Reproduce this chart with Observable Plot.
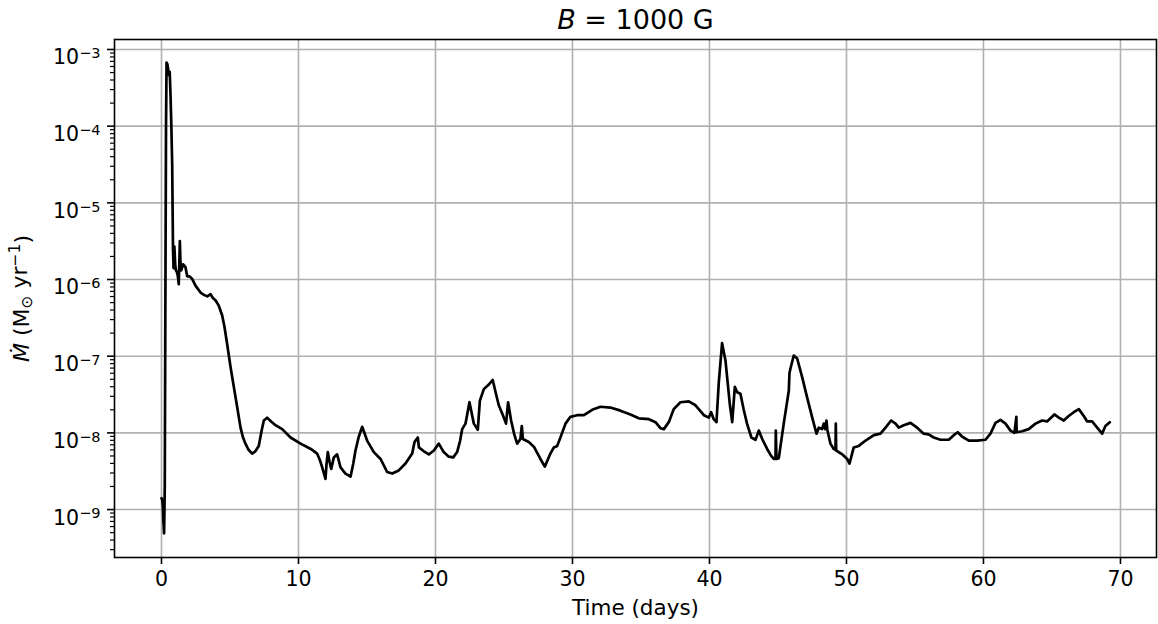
<!DOCTYPE html>
<html>
<head>
<meta charset="utf-8">
<script src="https://cdn.jsdelivr.net/npm/d3@7"></script>
<script src="https://cdn.jsdelivr.net/npm/@observablehq/plot@0.6"></script>
<style>
html, body { margin: 0; padding: 0; background: #fff; }
svg { display: block; }
</style>
</head>
<body>
<div id="chart"></div>
<script>
const titleText = "B = 1000 G";
const xLabel = "Time (days)";
const yLabel = "Ṁ (M⊙ yr⁻¹)";
const xTicks = [0, 10, 20, 30, 40, 50, 60, 70];
const yTicks = [1e-9, 1e-8, 1e-7, 1e-6, 1e-5, 1e-4, 1e-3];
const xDomain = [-3.43, 72.63];
const yDomain = [2.37e-10, 1.35e-3];

// time (days)
const timeDays = [
  0.00,0.05,0.10,0.14,0.19,0.24,0.28,0.33,0.37,0.43,0.48,0.53,0.60,0.66,0.72,0.78,0.84,0.88,0.94,1.00,
  1.05,1.12,1.19,1.26,1.30,1.34,1.38,1.44,1.58,1.75,1.88,2.05,2.24,2.48,2.85,3.10,3.34,3.58,3.75,3.94,
  4.18,4.43,4.60,4.79,5.04,5.28,5.53,5.77,5.95,6.13,6.35,6.62,6.85,7.10,7.30,7.47,7.71,8.00,8.32,8.81,
  9.42,10.15,10.90,11.36,11.55,11.73,11.97,12.05,12.14,12.27,12.39,12.58,12.82,13.07,13.43,13.80,14.00,14.16,14.40,14.65,
  15.01,15.50,15.99,16.47,16.84,17.32,17.81,18.30,18.47,18.71,18.79,19.15,19.52,19.88,20.24,20.60,20.97,21.30,21.58,21.80,
  21.95,22.19,22.48,22.80,23.09,23.24,23.53,23.89,24.18,24.40,24.62,24.90,25.15,25.30,25.52,25.75,25.96,26.20,26.30,26.38,
  26.81,27.18,27.66,27.98,28.39,28.64,28.88,29.12,29.49,29.85,30.34,30.83,31.44,32.04,32.77,33.50,34.23,34.84,35.58,36.06,
  36.42,36.67,37.03,37.39,37.88,38.49,38.98,39.59,39.95,40.12,40.31,40.51,40.68,40.92,41.17,41.48,41.66,41.85,42.02,42.26,
  42.50,42.74,43.06,43.36,43.60,43.85,44.21,44.50,44.70,44.82,44.84,44.89,45.06,45.42,45.79,45.84,45.90,46.15,46.40,46.76,
  47.13,47.50,47.81,47.98,48.22,48.34,48.45,48.54,48.60,48.83,49.07,49.20,49.22,49.25,49.69,50.05,50.22,50.53,50.90,51.39,
  52.00,52.48,52.85,53.26,53.58,53.82,54.18,54.67,55.16,55.64,56.00,56.37,56.86,57.47,57.83,58.12,58.45,58.93,59.54,60.15,
  60.51,60.88,61.24,61.61,61.97,62.26,62.40,62.42,62.82,63.30,63.80,64.28,64.64,65.18,65.50,65.86,66.22,66.59,66.96,67.32,
  67.57,67.93,68.30,68.66,68.90,69.22
];

// mass-loss rate (Msun / yr)
const mdot = [
  1.41e-9,1.35e-9,1.12e-9,7.08e-10,4.9e-10,2.0e-9,3.16e-7,1e-4,6.76e-4,6.46e-4,5.62e-4,4.68e-4,5.13e-4,2.51e-4,1e-4,3.24e-5,2.51e-6,1.41e-6,2.69e-6,1.58e-6,
  1.32e-6,1.26e-6,1.12e-6,8.71e-7,1.58e-6,3.16e-6,1.78e-6,1.32e-6,1.58e-6,1.45e-6,1.10e-6,1.10e-6,1.02e-6,8.32e-7,6.76e-7,6.31e-7,6.03e-7,6.46e-7,5.75e-7,5.37e-7,
  4.57e-7,3.39e-7,2.40e-7,1.45e-7,7.24e-8,3.98e-8,2.14e-8,1.17e-8,8.71e-9,7.24e-9,6.03e-9,5.37e-9,5.75e-9,6.76e-9,1.05e-8,1.45e-8,1.58e-8,1.41e-8,1.26e-8,1.12e-8,
  8.71e-9,7.24e-9,6.17e-9,5.37e-9,4.47e-9,3.55e-9,2.51e-9,3.98e-9,5.62e-9,4.17e-9,3.39e-9,4.79e-9,5.25e-9,3.55e-9,2.95e-9,2.69e-9,3.98e-9,5.89e-9,8.91e-9,1.20e-8,
  7.94e-9,5.62e-9,4.57e-9,3.09e-9,2.95e-9,3.24e-9,3.98e-9,5.37e-9,7.59e-9,8.71e-9,6.46e-9,5.75e-9,5.25e-9,5.89e-9,7.24e-9,5.62e-9,4.90e-9,4.79e-9,5.62e-9,7.94e-9,
  1.12e-8,1.32e-8,2.51e-8,1.32e-8,1.10e-8,2.63e-8,3.72e-8,4.27e-8,4.90e-8,3.31e-8,2.29e-8,1.74e-8,1.32e-8,2.51e-8,1.45e-8,9.55e-9,7.24e-9,8.32e-9,1.23e-8,8.32e-9,
  7.59e-9,6.61e-9,4.57e-9,3.63e-9,5.37e-9,6.46e-9,6.76e-9,8.71e-9,1.32e-8,1.62e-8,1.70e-8,1.70e-8,2.00e-8,2.19e-8,2.14e-8,1.95e-8,1.74e-8,1.55e-8,1.51e-8,1.38e-8,
  1.15e-8,1.12e-8,1.38e-8,2.04e-8,2.51e-8,2.57e-8,2.29e-8,1.70e-8,1.58e-8,1.86e-8,1.51e-8,1.38e-8,4.57e-8,1.48e-7,8.71e-8,2.40e-8,1.38e-8,3.98e-8,3.39e-8,3.24e-8,
  2.00e-8,1.32e-8,8.71e-9,8.13e-9,1.07e-8,8.32e-9,6.17e-9,5.01e-9,4.57e-9,4.57e-9,1.07e-8,4.57e-9,4.68e-9,1.32e-8,3.55e-8,6.03e-8,6.76e-8,1.02e-7,9.33e-8,5.37e-8,
  2.88e-8,1.58e-8,9.77e-9,1.17e-8,1.12e-8,1.32e-8,1.12e-8,1.45e-8,1.10e-8,7.24e-9,6.17e-9,6.03e-9,1.32e-8,5.89e-9,5.25e-9,4.57e-9,3.98e-9,6.46e-9,6.76e-9,7.94e-9,
  9.33e-9,9.77e-9,1.17e-8,1.45e-8,1.32e-8,1.17e-8,1.26e-8,1.35e-8,1.17e-8,9.77e-9,9.55e-9,8.71e-9,8.13e-9,8.13e-9,9.33e-9,1.02e-8,8.91e-9,7.94e-9,7.94e-9,8.13e-9,
  9.77e-9,1.35e-8,1.48e-8,1.32e-8,1.07e-8,1.00e-8,1.62e-8,1.02e-8,1.05e-8,1.12e-8,1.32e-8,1.45e-8,1.41e-8,1.74e-8,1.58e-8,1.45e-8,1.66e-8,1.86e-8,2.04e-8,1.66e-8,
  1.41e-8,1.41e-8,1.17e-8,9.77e-9,1.23e-8,1.38e-8
];

const data = timeDays.map((t, i) => ({t, m: mdot[i]}));

const minorTicks = [];
for (const d of [1e-10, ...yTicks]) {
  for (let k = 2; k <= 9; k++) {
    const v = k * d;
    if (v >= yDomain[0] && v <= yDomain[1]) minorTicks.push(v);
  }
}

const supMap = {"-": "⁻", "0": "⁰", "1": "¹", "2": "²", "3": "³", "4": "⁴", "5": "⁵", "6": "⁶", "7": "⁷", "8": "⁸", "9": "⁹"};
const unSup = {"⁻": "−", "⁰": "0", "¹": "1", "²": "2", "³": "3", "⁴": "4", "⁵": "5", "⁶": "6", "⁷": "7", "⁸": "8", "⁹": "9"};
const fmtPow = d => "10" + String(Math.round(Math.log10(d))).replace(/./g, c => supMap[c]);

const gridColor = "#b0b0b0";

const plot = Plot.plot({
  width: 1158,
  height: 624,
  marginTop: 39,
  marginBottom: 67,
  marginLeft: 114,
  marginRight: 2,
  style: {fontFamily: "'DejaVu Sans', sans-serif", fontSize: "20.5px", color: "black", background: "white"},
  x: {domain: xDomain, label: null},
  y: {type: "log", domain: yDomain, label: null},
  marks: [
    Plot.gridX(xTicks, {stroke: gridColor, strokeOpacity: 1, strokeWidth: 1.6}),
    Plot.gridY(yTicks, {stroke: gridColor, strokeOpacity: 1, strokeWidth: 1.6}),
    Plot.line(data, {x: "t", y: "m", stroke: "black", strokeWidth: 2.7, clip: true, strokeLinejoin: "round"}),
    Plot.frame({stroke: "black", strokeWidth: 1.6}),
    Plot.axisX(xTicks, {tickSize: 7, tickPadding: 7, strokeWidth: 1.6, label: null, fontSize: 20.5}),
    Plot.axisY(yTicks, {tickSize: 7, tickPadding: 7, strokeWidth: 1.6, label: null, tickFormat: fmtPow, fontSize: 20.5}),
    Plot.axisY(minorTicks, {tickSize: 4, strokeWidth: 1.2, label: null, tickFormat: () => ""}),
    Plot.text([titleText], {frameAnchor: "top", dy: -11, lineAnchor: "bottom", textAnchor: "middle", fontSize: 27}),
    Plot.text([xLabel], {frameAnchor: "bottom", dy: 57, lineAnchor: "bottom", textAnchor: "middle", fontSize: 21.5}),
    Plot.text([yLabel], {frameAnchor: "left", dx: -86, rotate: -90, lineAnchor: "bottom", textAnchor: "middle", fontSize: 22})
  ]
});

document.getElementById("chart").appendChild(plot);

const NS = "http://www.w3.org/2000/svg";
function tspan(parent, txt, attrs) {
  const t = document.createElementNS(NS, "tspan");
  t.textContent = txt;
  for (const k in attrs) t.setAttribute(k, attrs[k]);
  parent.appendChild(t);
  return t;
}

plot.querySelectorAll("text").forEach(el => {
  const s = el.textContent;
  if (/^10[⁻⁰¹²³⁴⁵⁶⁷⁸⁹]+$/.test(s)) {
    const exp = s.slice(2).replace(/./g, c => unSup[c]);
    el.textContent = "";
    tspan(el, "10", {});
    tspan(el, exp, {dy: "-0.42em", "font-size": "14.5px"});
    el.setAttribute("dy", "0.41em");
  } else if (s === titleText) {
    el.textContent = "";
    tspan(el, "B", {"font-style": "italic"});
    tspan(el, " = 1000 G", {});
  } else if (s === yLabel) {
    el.textContent = "";
    tspan(el, "Ṁ", {"font-style": "italic"});
    tspan(el, " (M", {});
    tspan(el, "⊙", {dy: "0.22em", "font-size": "15.5px"});
    tspan(el, " yr", {dy: "-0.22em"});
    tspan(el, "−1", {dy: "-0.45em", "font-size": "15.5px"});
    tspan(el, ")", {dy: "0.45em"});
  }
});
</script>
</body>
</html>
